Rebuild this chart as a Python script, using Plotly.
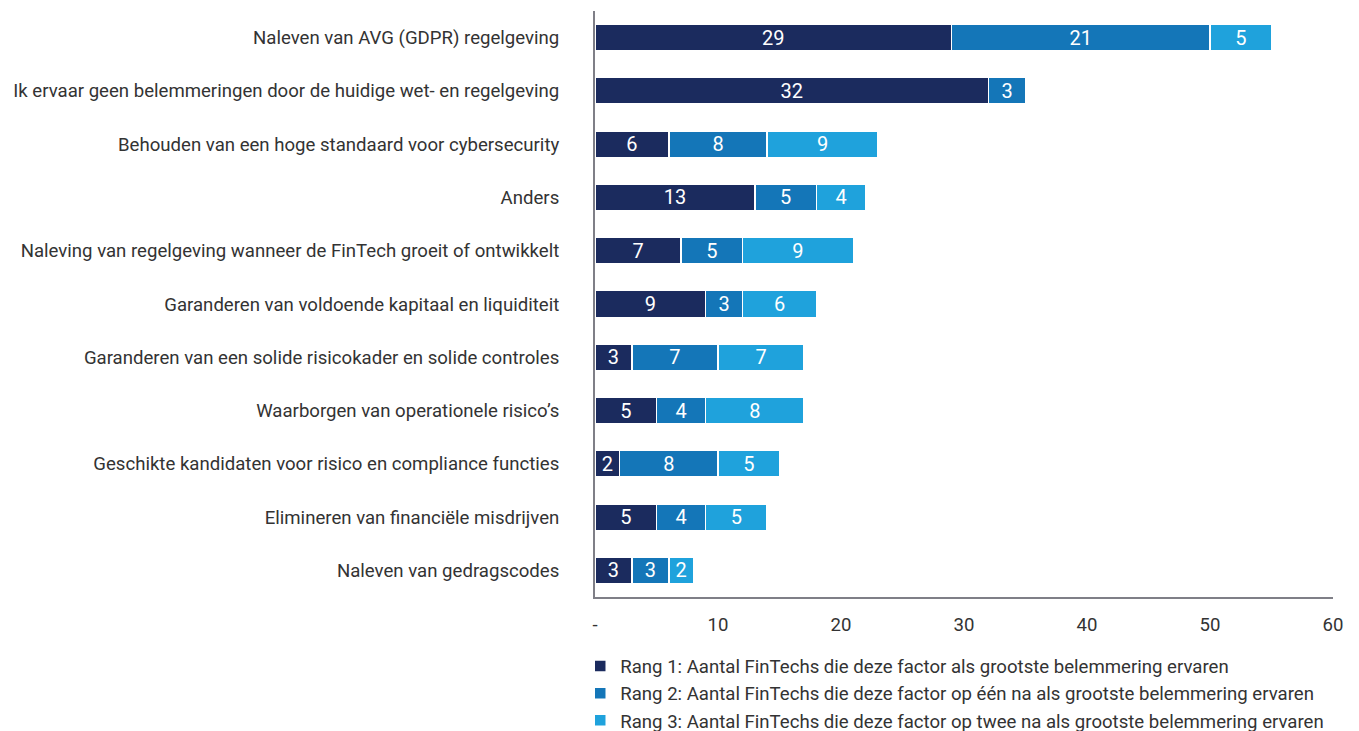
import plotly.graph_objects as go

categories = [
    "Naleven van AVG (GDPR) regelgeving",
    "Ik ervaar geen belemmeringen door de huidige wet- en regelgeving",
    "Behouden van een hoge standaard voor cybersecurity",
    "Anders",
    "Naleving van regelgeving wanneer de FinTech groeit of ontwikkelt",
    "Garanderen van voldoende kapitaal en liquiditeit",
    "Garanderen van een solide risicokader en solide controles",
    "Waarborgen van operationele risico’s",
    "Geschikte kandidaten voor risico en compliance functies",
    "Elimineren van financiële misdrijven",
    "Naleven van gedragscodes",
]
rang1 = [29, 32, 6, 13, 7, 9, 3, 5, 2, 5, 3]
rang2 = [21, 3, 8, 5, 5, 3, 7, 4, 8, 4, 3]
rang3 = [5, 0, 9, 4, 9, 6, 7, 8, 5, 5, 2]
series_names = [
    "Rang 1: Aantal FinTechs die deze factor als grootste belemmering ervaren",
    "Rang 2: Aantal FinTechs die deze factor op één na als grootste belemmering ervaren",
    "Rang 3: Aantal FinTechs die deze factor op twee na als grootste belemmering ervaren",
]
colors = ["#1B2B5E", "#1476B8", "#1FA2DC"]
tick_vals = [0, 10, 20, 30, 40, 50, 60]
tick_text = ["-", "10", "20", "30", "40", "50", "60"]

FONT = "Roboto"
FS = 18.6
fig = go.Figure()
for name, vals, col in zip(series_names, [rang1, rang2, rang3], colors):
    fig.add_trace(go.Bar(
        y=categories, x=[v if v else None for v in vals], name=name, orientation="h",
        marker=dict(color=col, line=dict(color="white", width=1.5)),
        text=[str(v) if v else "" for v in vals],
        textposition="inside", insidetextanchor="middle", textangle=0,
        textfont=dict(color="white", size=20, family=FONT),
        width=0.5,
    ))

fig.update_layout(
    barmode="stack",
    width=1359, height=731,
    margin=dict(l=587, r=34, t=3, b=142, autoexpand=False),
    plot_bgcolor="white", paper_bgcolor="white",
    font=dict(family=FONT, size=FS, color="#333333"),
    uniformtext=dict(minsize=20, mode="show"),
    showlegend=True,
    legend=dict(orientation="v", x=-0.02, xanchor="left", y=-0.086, yanchor="top",
                font=dict(size=FS, color="#333333"), tracegroupgap=0,
                itemwidth=30, traceorder="normal"),
)
fig.update_xaxes(range=[0, 60], tickvals=tick_vals, ticktext=tick_text,
                 showgrid=False, zeroline=False, showline=True, automargin=False,
                 linecolor="#7F7F87", linewidth=2, ticks="outside",
                 ticklen=10, tickcolor="rgba(0,0,0,0)",
                 tickfont=dict(size=FS, color="#333333"))
fig.update_yaxes(autorange="reversed", showgrid=False, showline=True, automargin=False,
                 linecolor="#7F7F87", linewidth=2, ticks="outside",
                 ticklen=30, tickcolor="rgba(0,0,0,0)",
                 tickfont=dict(size=FS, color="#333333"))

fig.write_html("out.html")
